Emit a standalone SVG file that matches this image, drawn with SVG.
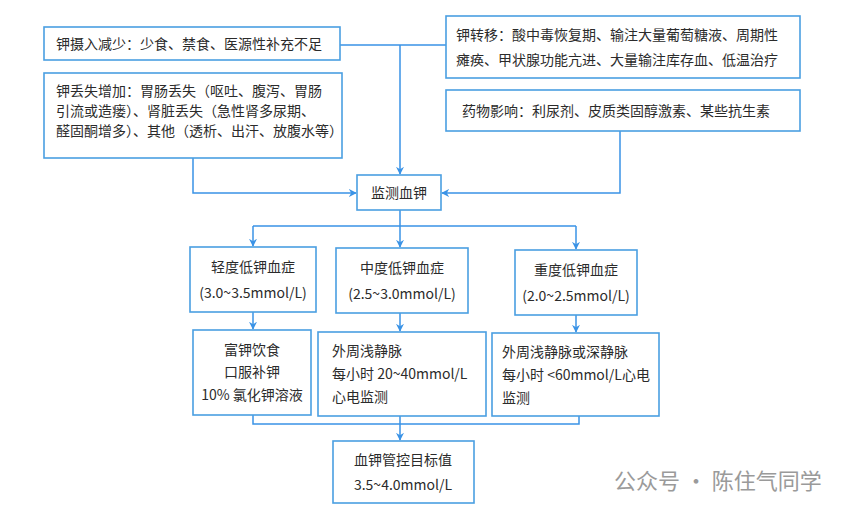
<svg xmlns="http://www.w3.org/2000/svg" width="865" height="511" viewBox="0 0 865 511">
<defs>
<marker id="ar" viewBox="0 0 10 10" refX="9" refY="5" markerWidth="8" markerHeight="8" orient="auto" markerUnits="userSpaceOnUse"><path d="M0,0 L10,5 L0,10 L3,5 z" fill="#3a93e6"/></marker>
<style>
rect{fill:#fff;stroke:#4a9fe2;stroke-width:1.6}
text{font-family:"Noto Sans CJK SC","Liberation Serif",serif;font-size:14px;fill:#2b2b2b}
.c{text-anchor:middle}
#connectors path{fill:none;stroke:#3a93e6;stroke-width:1.5}
</style>
</defs>
<rect x="0" y="0" width="865" height="511" style="fill:#fff;stroke:none"/>
<g id="connectors">
<path d="M340,45 H446 M400,45 V174" marker-end="url(#ar)"/>
<path d="M193,158 V193 H356" marker-end="url(#ar)"/>
<path d="M620,131 V193 H442" marker-end="url(#ar)"/>
<path d="M400,210 V226 M253,226 H576"/>
<path d="M253,226 V246" marker-end="url(#ar)"/>
<path d="M400,226 V247" marker-end="url(#ar)"/>
<path d="M576,226 V249" marker-end="url(#ar)"/>
<path d="M253,312 V329" marker-end="url(#ar)"/>
<path d="M400,313 V331" marker-end="url(#ar)"/>
<path d="M576,315 V332" marker-end="url(#ar)"/>
<path d="M253,415 V424 H579 V416 M400,416 V440" marker-end="url(#ar)"/>
</g>
<g id="n1"><rect x="44" y="27" width="296" height="33"/><text x="56" y="49">钾摄入减少：少食、禁食、医源性补充不足</text></g>
<g id="n2"><rect x="446" y="16" width="354" height="62"/><text x="456" y="40">钾转移：酸中毒恢复期、输注大量葡萄糖液、周期性</text><text x="456" y="65">瘫痪、甲状腺功能亢进、大量输注库存血、低温治疗</text></g>
<g id="n3"><rect x="44" y="73" width="298" height="85"/><text x="56" y="96">钾丢失增加：胃肠丢失（呕吐、腹泻、胃肠</text><text x="56" y="116">引流或造瘘）、肾脏丢失（急性肾多尿期、</text><text x="56" y="136">醛固酮增多）、其他（透析、出汗、放腹水等）</text></g>
<g id="n4"><rect x="446" y="90" width="354" height="41"/><text x="462" y="116">药物影响：利尿剂、皮质类固醇激素、某些抗生素</text></g>
<g id="n5"><rect x="357" y="175" width="84" height="35"/><text class="c" x="399" y="198">监测血钾</text></g>
<g id="n6"><rect x="190" y="247" width="126" height="65"/><text class="c" x="253" y="272">轻度低钾血症</text><text class="c" x="253" y="298">(3.0~3.5mmol/L)</text></g>
<g id="n7"><rect x="336" y="248" width="132" height="65"/><text class="c" x="402" y="273">中度低钾血症</text><text class="c" x="402" y="299">(2.5~3.0mmol/L)</text></g>
<g id="n8"><rect x="515" y="250" width="122" height="65"/><text class="c" x="576" y="275">重度低钾血症</text><text class="c" x="576" y="301">(2.0~2.5mmol/L)</text></g>
<g id="n9"><rect x="193" y="330" width="118" height="85"/><text class="c" x="252" y="355">富钾饮食</text><text class="c" x="252" y="377">口服补钾</text><text class="c" x="252" y="400">10% 氯化钾溶液</text></g>
<g id="n10"><rect x="318" y="332" width="168" height="84"/><text x="332" y="356">外周浅静脉</text><text x="332" y="379">每小时 20~40mmol/L</text><text x="332" y="402">心电监测</text></g>
<g id="n11"><rect x="492" y="333" width="167" height="83"/><text x="502" y="357">外周浅静脉或深静脉</text><text x="502" y="380">每小时 &lt;60mmol/L心电</text><text x="502" y="403">监测</text></g>
<g id="n12"><rect x="333" y="441" width="141" height="62"/><text class="c" x="403" y="465">血钾管控目标值</text><text class="c" x="403" y="490">3.5~4.0mmol/L</text></g>
<g id="wm"><text x="614" y="489" style="font-family:'Noto Sans CJK SC',sans-serif;font-size:22px;fill:#9a9a9a">公众号 · 陈住气同学</text></g>
</svg>
